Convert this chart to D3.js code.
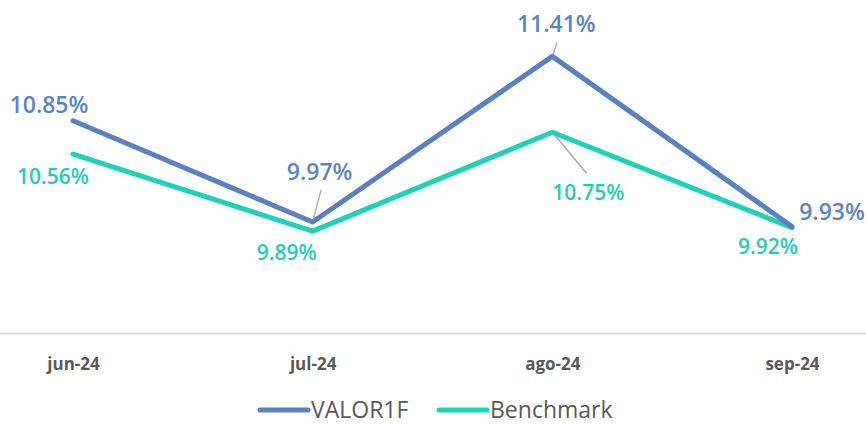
<!DOCTYPE html>
<html>
<head>
<meta charset="utf-8">
<script src="https://cdn.jsdelivr.net/npm/d3@7"></script>
<style>
  body { margin: 0; background: #fff; }
  svg { display: block; }
</style>
</head>
<body>
<div id="chart"></div>
<script>
// data
var months = ["jun-24", "jul-24", "ago-24", "sep-24"];
var valor1f = [10.85, 9.97, 11.41, 9.93];
var benchmark = [10.56, 9.89, 10.75, 9.92];
var seriesNames = ["VALOR1F", "Benchmark"];

var colors = ["#5A80C2", "#1DD2B7"];
var labelColors = ["#5B84C4", "#1FCDB5"];

// label placement relative to each point [dx, dy, leader]
var labelPos = [
  [[-24, -8, 0], [7, -42, 1], [4, -24, 1], [40, -7, 0]],
  [[-20, 30, 0], [-26, 29, 0], [36, 68, 1], [-24, 26, 0]]
];

var width = 866, height = 426;

var svg = d3.select("#chart")
    .append("svg")
    .attr("width", width)
    .attr("height", height);

var x = d3.scalePoint().domain(months).range([73, 792]);
var y = d3.scaleLinear().domain([9, 12]).range([333.5, -11.5]);

// x axis line + labels
var xAxis = d3.axisBottom(x).tickSize(0).tickPadding(24);
var gx = svg.append("g")
    .attr("transform", "translate(0," + y(9) + ")")
    .call(xAxis);
gx.select(".domain").remove();
gx.append("line")
    .attr("x1", 0).attr("x2", width)
    .attr("stroke", "#d9d9d9").attr("stroke-width", 2);
gx.selectAll("text")
    .attr("fill", "#595959")
    .style("font-family", "'Open Sans', sans-serif")
    .style("font-weight", 700)
    .style("font-size", "17px");

var line = d3.line()
    .x(function(d, i) { return x(months[i]); })
    .y(function(d) { return y(d); });

var all = [valor1f, benchmark];

// leader lines
all.forEach(function(s, k) {
  s.forEach(function(v, i) {
    var p = labelPos[k][i];
    if (!p[2]) return;
    var px = x(months[i]), py = y(v);
    var ty = k == 0 ? py + p[1] + 10 : py + p[1] - 27;
    var tx = px + p[0] * (k == 0 ? 1.2 : 0.95);
    svg.append("line")
      .attr("x1", px).attr("y1", py)
      .attr("x2", tx).attr("y2", ty)
      .attr("stroke", "#a6a6a6").attr("stroke-width", 1.3);
  });
});

// lines (benchmark drawn first, valor on top)
[1, 0].forEach(function(k) {
  svg.append("path")
    .datum(all[k])
    .attr("d", line)
    .attr("fill", "none")
    .attr("stroke", colors[k])
    .attr("stroke-width", 5)
    .attr("stroke-linejoin", "round")
    .attr("stroke-linecap", "round");
});

// data labels
all.forEach(function(s, k) {
  svg.selectAll(".lbl" + k)
    .data(s)
    .enter().append("text")
    .attr("class", "lbl" + k)
    .attr("x", function(d, i) { return x(months[i]) + labelPos[k][i][0]; })
    .attr("y", function(d, i) { return y(d) + labelPos[k][i][1]; })
    .attr("text-anchor", "middle")
    .attr("fill", labelColors[k])
    .style("font-family", "'Open Sans', sans-serif")
    .style("font-weight", 600)
    .style("font-size", k == 0 ? "23px" : "21px")
    .text(function(d) { return d.toFixed(2) + "%"; });
});

// legend
var legend = svg.append("g").attr("transform", "translate(260,412)");
var lx = [0, 179];
seriesNames.forEach(function(n, k) {
  var g = legend.append("g").attr("transform", "translate(" + lx[k] + ",0)");
  g.append("line")
    .attr("x1", 0).attr("x2", 48)
    .attr("y1", -2).attr("y2", -2)
    .attr("stroke", colors[k]).attr("stroke-width", 5)
    .attr("stroke-linecap", "round");
  g.append("text")
    .attr("x", 51).attr("y", 6)
    .attr("fill", "#595959")
    .style("font-family", "'Open Sans', sans-serif")
    .style("font-size", "23px")
    .text(n);
});
</script>
</body>
</html>
